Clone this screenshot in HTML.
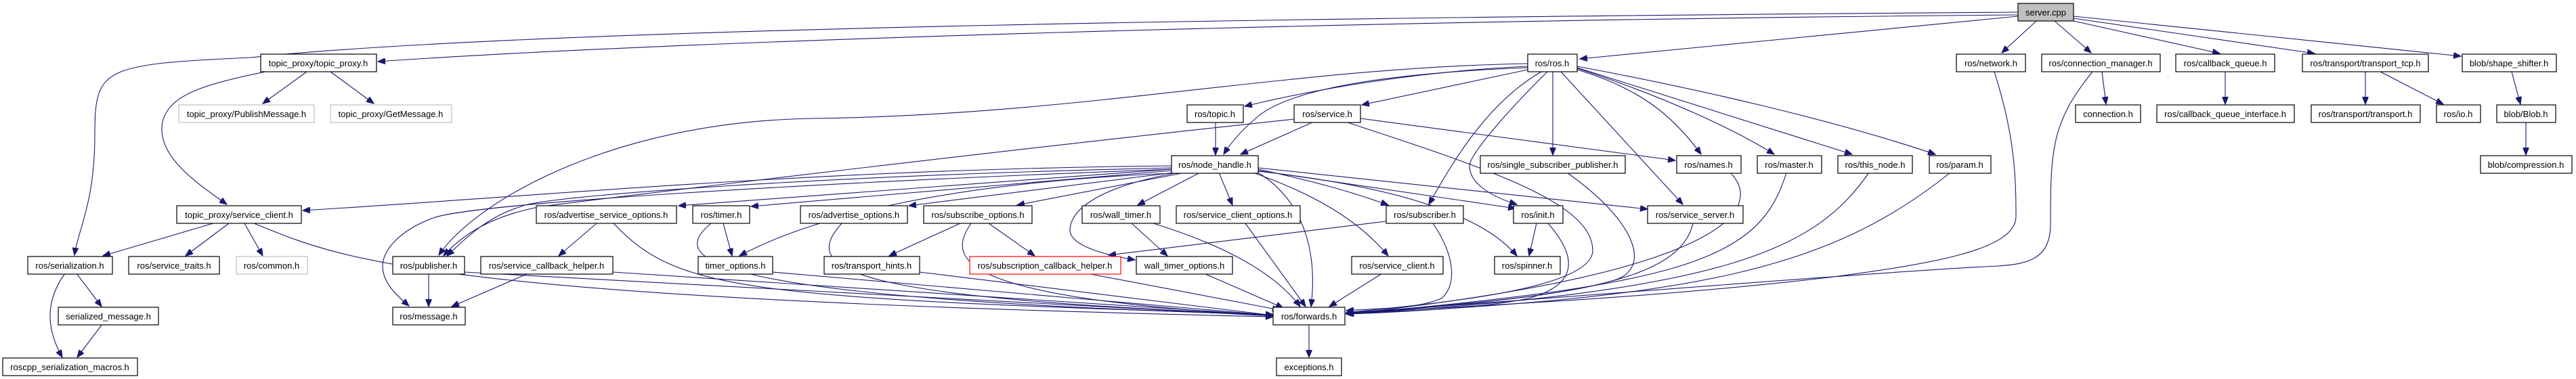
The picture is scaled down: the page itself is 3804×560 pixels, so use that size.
<!DOCTYPE html>
<html><head><meta charset="utf-8"><style>
html,body{margin:0;padding:0;background:#fff}
svg{display:block}
.n rect{fill:#fff;stroke:#000;stroke-width:1.2}
.g rect{fill:#fff;stroke:#bfbfbf;stroke-width:1.2}
.r rect{fill:#fff;stroke:#f00;stroke-width:1.2}
text{font-family:"Liberation Sans",sans-serif;font-size:13px;text-anchor:middle;fill:#000}
path{fill:none;stroke:#191970;stroke-width:1.1;marker-end:url(#a)}
</style></head><body>
<svg width="3804" height="560" viewBox="0 0 3804 560" xmlns="http://www.w3.org/2000/svg">
<defs><marker id="a" markerWidth="12" markerHeight="9" refX="11" refY="4.5" orient="auto" markerUnits="userSpaceOnUse"><path d="M0,0 L11,4.5 L0,9 z" style="fill:#191970;stroke:#191970;marker-end:none"/></marker></defs>
<g>
<path d="M2980,22 C2000,30 1000,60 558,91"/>
<path d="M2980,18 C2000,25 800,40 370,85 C150,95 140,100 140,200 C140,300 115,340 110,377"/>
<path d="M2980,24 L2333,87"/>
<path d="M3007,31 L2956,78"/>
<path d="M3034,31 L3088,78"/>
<path d="M3062,31 L3278,79"/>
<path d="M3062,27 L3418,79"/>
<path d="M3062,24 L3634,83"/>
<path d="M453,106 L388,153"/>
<path d="M488,106 L552,153"/>
<path d="M392,106 C300,125 250,140 240,180 C230,230 290,270 335,302"/>
<path d="M2945,106 C2975,200 2977,260 2977,320 C2977,370 2850,390 2700,410 C2400,445 2100,455 1988,463"/>
<path d="M3104,106 L3110,154"/>
<path d="M3090,106 C3030,180 3028,220 3028,330 C3028,380 3000,390 2950,393 C2800,400 2300,440 1988,463"/>
<path d="M3286,106 L3286,154"/>
<path d="M3493,106 L3493,154"/>
<path d="M3515,106 L3608,154"/>
<path d="M3709,106 L3722,154"/>
<path d="M3730,180 L3730,229"/>
<path d="M2256,98 C2100,105 1950,130 1838,157"/>
<path d="M2256,103 L2011,155"/>
<path d="M2256,100 C2000,110 1900,140 1860,170 C1830,195 1815,215 1807,228"/>
<path d="M2256,94 C1900,100 1600,170 1200,175 C900,180 700,300 648,377"/>
<path d="M2276,106 C2200,150 2150,230 2110,302"/>
<path d="M2285,106 C2220,170 2170,230 2170,245 C2170,270 2200,290 2240,302"/>
<path d="M2293,106 L2293,229"/>
<path d="M2305,106 L2485,302"/>
<path d="M2329,103 C2420,130 2470,170 2512,228"/>
<path d="M2329,101 C2450,140 2560,190 2620,228"/>
<path d="M2329,100 L2735,228"/>
<path d="M2329,98 C2500,130 2700,175 2858,228"/>
<path d="M1940,180 L1832,228"/>
<path d="M2009,175 L2474,237"/>
<path d="M1987,180 C2200,250 2352,300 2352,370 C2352,430 2100,450 1988,462"/>
<path d="M1911,176 C1500,220 1000,280 800,305 C720,320 680,350 655,378"/>
<path d="M1795,181 L1795,229"/>
<path d="M1730,245 C1200,250 800,290 447,311"/>
<path d="M1730,250 L1002,304"/>
<path d="M1730,252 L1109,305"/>
<path d="M1733,255 L1342,304"/>
<path d="M1750,255 L1502,303"/>
<path d="M1772,255 L1680,303"/>
<path d="M1800,255 L1820,303"/>
<path d="M1858,250 C1950,270 2000,285 2050,303"/>
<path d="M1858,252 L2238,308"/>
<path d="M1858,248 L2433,309"/>
<path d="M1858,253 C2100,280 2200,330 2240,378"/>
<path d="M1850,255 C1950,290 2010,330 2050,378"/>
<path d="M1858,255 C1930,300 1945,380 1936,453"/>
<path d="M1730,248 C1200,260 800,290 770,305 C720,320 690,350 660,378"/>
<path d="M1730,250 C1200,270 700,300 640,322 C590,340 565,370 565,393 C565,420 590,440 604,452"/>
<path d="M1730,256 C1400,270 1200,320 1092,378"/>
<path d="M1740,255 C1600,280 1580,320 1580,340 C1580,360 1620,375 1676,384"/>
<path d="M881,330 L825,378"/>
<path d="M906,330 C1000,430 1100,440 1880,465"/>
<path d="M1068,330 L1081,378"/>
<path d="M1050,330 C990,380 1010,440 1880,465"/>
<path d="M1243,330 C1180,400 1250,440 1880,465"/>
<path d="M1418,330 L1313,378"/>
<path d="M1460,330 L1528,378"/>
<path d="M1434,330 C1400,380 1400,440 1880,466"/>
<path d="M1671,330 L1724,378"/>
<path d="M1703,330 C1800,360 1880,400 1920,453"/>
<path d="M1839,330 L1928,453"/>
<path d="M2047,327 L1637,377"/>
<path d="M2116,330 C2150,380 2150,420 2130,440 C2100,455 2050,455 1988,459"/>
<path d="M2269,330 L2258,378"/>
<path d="M2286,330 C2330,380 2330,420 2260,440 C2200,455 2050,462 1988,464"/>
<path d="M2500,330 C2480,420 2300,440 1988,464"/>
<path d="M2638,255 C2600,380 2500,420 1988,464"/>
<path d="M2760,255 C2680,370 2550,430 1988,464"/>
<path d="M2880,255 C2700,400 2500,440 1988,464"/>
<path d="M2555,255 C2600,300 2580,400 1988,464"/>
<path d="M2314,255 C2420,330 2440,400 2380,415 C2300,440 2100,455 1988,462"/>
<path d="M2041,404 L1963,453"/>
<path d="M1358,402 L1880,466"/>
<path d="M1605,404 L1890,458"/>
<path d="M1778,404 L1895,455"/>
<path d="M1141,402 L1880,466"/>
<path d="M905,402 L1880,466"/>
<path d="M780,404 L667,453"/>
<path d="M633,404 L633,453"/>
<path d="M686,402 L1880,467"/>
<path d="M315,330 L152,378"/>
<path d="M338,330 L274,378"/>
<path d="M361,330 L388,378"/>
<path d="M375,330 C500,380 600,440 1880,468"/>
<path d="M113,404 L150,453"/>
<path d="M96,404 C70,440 65,480 92,528"/>
<path d="M151,479 L114,528"/>
<path d="M1933,479 L1933,528"/>
</g>
<g class="n"><rect x="2980" y="5" width="82" height="26" style="fill:#bfbfbf"/><text x="3021" y="23">server.cpp</text></g>
<g class="n"><rect x="385" y="80" width="171" height="26"/><text x="470" y="98">topic_proxy/topic_proxy.h</text></g>
<g class="n"><rect x="2256" y="80" width="73" height="26"/><text x="2292" y="98">ros/ros.h</text></g>
<g class="n"><rect x="2889" y="80" width="102" height="26"/><text x="2940" y="98">ros/network.h</text></g>
<g class="n"><rect x="3015" y="80" width="175" height="26"/><text x="3102" y="98">ros/connection_manager.h</text></g>
<g class="n"><rect x="3213" y="80" width="146" height="26"/><text x="3286" y="98">ros/callback_queue.h</text></g>
<g class="n"><rect x="3400" y="80" width="186" height="26"/><text x="3493" y="98">ros/transport/transport_tcp.h</text></g>
<g class="n"><rect x="3636" y="80" width="139" height="26"/><text x="3705" y="98">blob/shape_shifter.h</text></g>
<g class="g"><rect x="264" y="155" width="200" height="26"/><text x="364" y="173">topic_proxy/PublishMessage.h</text></g>
<g class="g"><rect x="488" y="155" width="179" height="26"/><text x="577" y="173">topic_proxy/GetMessage.h</text></g>
<g class="n"><rect x="1753" y="155" width="83" height="26"/><text x="1794" y="173">ros/topic.h</text></g>
<g class="n"><rect x="1911" y="155" width="98" height="26"/><text x="1960" y="173">ros/service.h</text></g>
<g class="n"><rect x="3065" y="155" width="96" height="26"/><text x="3113" y="173">connection.h</text></g>
<g class="n"><rect x="3185" y="155" width="203" height="26"/><text x="3286" y="173">ros/callback_queue_interface.h</text></g>
<g class="n"><rect x="3413" y="155" width="161" height="26"/><text x="3493" y="173">ros/transport/transport.h</text></g>
<g class="n"><rect x="3598" y="155" width="65" height="26"/><text x="3630" y="173">ros/io.h</text></g>
<g class="n"><rect x="3687" y="155" width="87" height="26"/><text x="3730" y="173">blob/Blob.h</text></g>
<g class="n"><rect x="1730" y="230" width="128" height="26"/><text x="1794" y="248">ros/node_handle.h</text></g>
<g class="n"><rect x="2186" y="230" width="214" height="26"/><text x="2293" y="248">ros/single_subscriber_publisher.h</text></g>
<g class="n"><rect x="2476" y="230" width="95" height="26"/><text x="2523" y="248">ros/names.h</text></g>
<g class="n"><rect x="2595" y="230" width="95" height="26"/><text x="2642" y="248">ros/master.h</text></g>
<g class="n"><rect x="2714" y="230" width="110" height="26"/><text x="2769" y="248">ros/this_node.h</text></g>
<g class="n"><rect x="2849" y="230" width="91" height="26"/><text x="2894" y="248">ros/param.h</text></g>
<g class="n"><rect x="3663" y="230" width="135" height="26"/><text x="3730" y="248">blob/compression.h</text></g>
<g class="n"><rect x="261" y="304" width="184" height="26"/><text x="353" y="322">topic_proxy/service_client.h</text></g>
<g class="n"><rect x="792" y="304" width="207" height="26"/><text x="895" y="322">ros/advertise_service_options.h</text></g>
<g class="n"><rect x="1023" y="304" width="84" height="26"/><text x="1065" y="322">ros/timer.h</text></g>
<g class="n"><rect x="1182" y="304" width="158" height="26"/><text x="1261" y="322">ros/advertise_options.h</text></g>
<g class="n"><rect x="1364" y="304" width="160" height="26"/><text x="1444" y="322">ros/subscribe_options.h</text></g>
<g class="n"><rect x="1598" y="304" width="115" height="26"/><text x="1655" y="322">ros/wall_timer.h</text></g>
<g class="n"><rect x="1737" y="304" width="183" height="26"/><text x="1828" y="322">ros/service_client_options.h</text></g>
<g class="n"><rect x="2047" y="304" width="114" height="26"/><text x="2104" y="322">ros/subscriber.h</text></g>
<g class="n"><rect x="2235" y="304" width="73" height="26"/><text x="2271" y="322">ros/init.h</text></g>
<g class="n"><rect x="2433" y="304" width="141" height="26"/><text x="2503" y="322">ros/service_server.h</text></g>
<g class="n"><rect x="41" y="379" width="125" height="26"/><text x="103" y="397">ros/serialization.h</text></g>
<g class="n"><rect x="190" y="379" width="134" height="26"/><text x="257" y="397">ros/service_traits.h</text></g>
<g class="g"><rect x="349" y="379" width="105" height="26"/><text x="401" y="397">ros/common.h</text></g>
<g class="n"><rect x="580" y="379" width="106" height="26"/><text x="633" y="397">ros/publisher.h</text></g>
<g class="n"><rect x="710" y="379" width="195" height="26"/><text x="807" y="397">ros/service_callback_helper.h</text></g>
<g class="n"><rect x="1031" y="379" width="110" height="26"/><text x="1086" y="397">timer_options.h</text></g>
<g class="n"><rect x="1217" y="379" width="141" height="26"/><text x="1287" y="397">ros/transport_hints.h</text></g>
<g class="r"><rect x="1432" y="379" width="223" height="26"/><text x="1543" y="397">ros/subscription_callback_helper.h</text></g>
<g class="n"><rect x="1678" y="379" width="142" height="26"/><text x="1749" y="397">wall_timer_options.h</text></g>
<g class="n"><rect x="1996" y="379" width="135" height="26"/><text x="2063" y="397">ros/service_client.h</text></g>
<g class="n"><rect x="2207" y="379" width="97" height="26"/><text x="2255" y="397">ros/spinner.h</text></g>
<g class="n"><rect x="86" y="454" width="148" height="26"/><text x="160" y="472">serialized_message.h</text></g>
<g class="n"><rect x="580" y="454" width="107" height="26"/><text x="633" y="472">ros/message.h</text></g>
<g class="n"><rect x="1880" y="454" width="106" height="26"/><text x="1933" y="472">ros/forwards.h</text></g>
<g class="n"><rect x="4" y="529" width="199" height="26"/><text x="103" y="547">roscpp_serialization_macros.h</text></g>
<g class="n"><rect x="1885" y="529" width="96" height="26"/><text x="1933" y="547">exceptions.h</text></g>
</svg>
</body></html>
